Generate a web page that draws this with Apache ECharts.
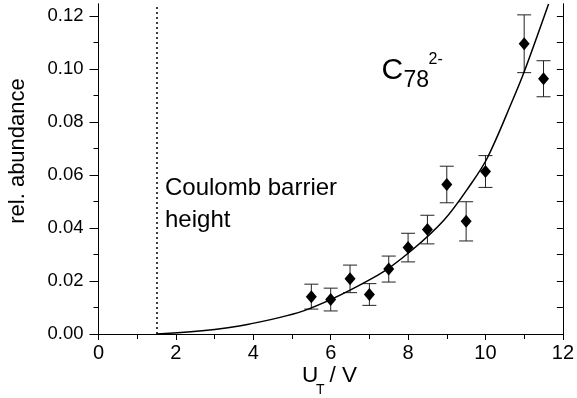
<!DOCTYPE html>
<html>
<head>
<meta charset="utf-8">
<script src="https://cdn.jsdelivr.net/npm/echarts@6/dist/echarts.min.js"></script>
<style>
  html, body { margin: 0; padding: 0; background: #fff; }
  #main { width: 577px; height: 398px; }
</style>
</head>
<body>
<div id="main"></div>
<script>
// measured points (U_T in V, relative abundance, error)
var uVals = [5.5, 6, 6.5, 7, 7.5, 8, 8.5, 9, 9.5, 10, 11, 11.5];
var abundVals = [0.0141, 0.013, 0.0208, 0.0149, 0.0245, 0.0326, 0.0394, 0.0564, 0.0425, 0.0613, 0.1095, 0.0963];
var errVals = [0.0047, 0.0043, 0.0052, 0.0041, 0.0049, 0.0054, 0.0054, 0.0069, 0.0074, 0.006, 0.0109, 0.0068];

// fit curve
var fitX = [1.5, 2.6, 3.88, 5.42, 7.22, 8.08, 8.93, 9.62, 10.05, 10.69, 11.0, 11.63];
var fitY = [0, 0.0011, 0.0037, 0.0094, 0.0222, 0.0314, 0.043, 0.0565, 0.0665, 0.0878, 0.0989, 0.1245];

var barrierU = 1.5;
var yTicks = [0, 0.02, 0.04, 0.06, 0.08, 0.10, 0.12];
var yMinorTicks = [0.01, 0.03, 0.05, 0.07, 0.09, 0.11];
var yMax = 0.1245;

var FONT = '"Liberation Sans", Arial, sans-serif';

var myChart = echarts.init(document.getElementById('main'));

function yAx(pos, ticks, len, inside, labels) {
    return {
        type: 'value', position: pos, min: 0, max: yMax,
        axisLine: { show: true, lineStyle: { color: '#000', width: 1 } },
        axisTick: { show: true, inside: inside, length: len, customValues: ticks, lineStyle: { color: '#000' } },
        axisLabel: labels ? {
            show: true, customValues: yTicks, margin: 15, color: '#000',
            fontFamily: FONT, fontSize: 18.5,
            formatter: function (v) { return v.toFixed(2); }
        } : { show: false },
        splitLine: { show: false }
    };
}

function txt(s, x, y, size, rot) {
    return {
        type: 'text', x: x, y: y, rotation: rot || 0,
        style: { text: s, font: size + 'px ' + FONT, fill: '#000', align: rot ? 'center' : 'left', verticalAlign: 'middle' }
    };
}

var pts = uVals.map(function (u, i) { return [u, abundVals[i], errVals[i]]; });
var fit = fitX.map(function (u, i) { return [u, fitY[i]]; });

var option = {
    animation: false,
    grid: { left: 98.5, right: 10.5, top: 4, bottom: 64 },
    xAxis: [
        {
            type: 'value', position: 'bottom', min: 0, max: 12, interval: 2,
            axisLine: { lineStyle: { color: '#000', width: 1 } },
            axisTick: { inside: false, length: 6, lineStyle: { color: '#000' } },
            minorTick: { show: true, splitNumber: 2, length: 4, lineStyle: { color: '#000' } },
            axisLabel: { margin: 9, color: '#000', fontFamily: FONT, fontSize: 20 },
            splitLine: { show: false }, minorSplitLine: { show: false }
        },
        {
            type: 'value', position: 'top', min: 0, max: 12, interval: 2,
            axisLine: { show: true, lineStyle: { color: '#000', width: 1 } },
            axisTick: { inside: true, length: 6, lineStyle: { color: '#000' } },
            minorTick: { show: true, splitNumber: 2, length: 5, lineStyle: { color: '#000' } },
            axisLabel: { show: false },
            splitLine: { show: false }
        }
    ],
    yAxis: [
        yAx('left', yTicks, 9, false, true),
        yAx('left', yMinorTicks, 5, false, false),
        yAx('right', yTicks, 6, true, false),
        yAx('right', yMinorTicks, 6, true, false)
    ],
    graphic: [
        txt('rel. abundance', 18, 151, 22, Math.PI / 2),
        txt('U', 302, 376, 22.5),
        txt('T', 316, 390, 14),
        txt('/ V', 329.5, 376, 22.5),
        txt('Coulomb barrier', 165, 188, 24),
        txt('height', 165, 220, 24),
        txt('C', 381.5, 70.5, 30),
        txt('78', 403.5, 80.5, 23),
        txt('2-', 428.5, 60, 16)
    ],
    series: [
        {
            // barrier marker
            type: 'line', data: [], xAxisIndex: 0, yAxisIndex: 0,
            markLine: {
                silent: true, symbol: ['none', 'none'], label: { show: false },
                lineStyle: { color: '#000', type: [2, 3], width: 1.5 },
                data: [{ xAxis: barrierU }]
            }
        },
        {
            type: 'line', data: fit, smooth: 0.35, showSymbol: false,
            lineStyle: { color: '#000', width: 1.5 }, clip: true
        },
        {
            type: 'custom', data: pts,
            renderItem: function (params, api) {
                var x = api.value(0), y = api.value(1), e = api.value(2);
                var top = api.coord([x, y + e]);
                var bot = api.coord([x, y - e]);
                var w = 7;
                var st = { stroke: '#222', lineWidth: 1 };
                return {
                    type: 'group', children: [
                        { type: 'line', shape: { x1: top[0], y1: top[1], x2: bot[0], y2: bot[1] }, style: st },
                        { type: 'line', shape: { x1: top[0] - w, y1: top[1], x2: top[0] + w, y2: top[1] }, style: st },
                        { type: 'line', shape: { x1: bot[0] - w, y1: bot[1], x2: bot[0] + w, y2: bot[1] }, style: st }
                    ]
                };
            }
        },
        {
            type: 'scatter', data: pts, symbol: 'diamond', symbolSize: [11, 13],
            itemStyle: { color: '#000', opacity: 1 }
        }
    ]
};

myChart.setOption(option);
</script>
</body>
</html>
